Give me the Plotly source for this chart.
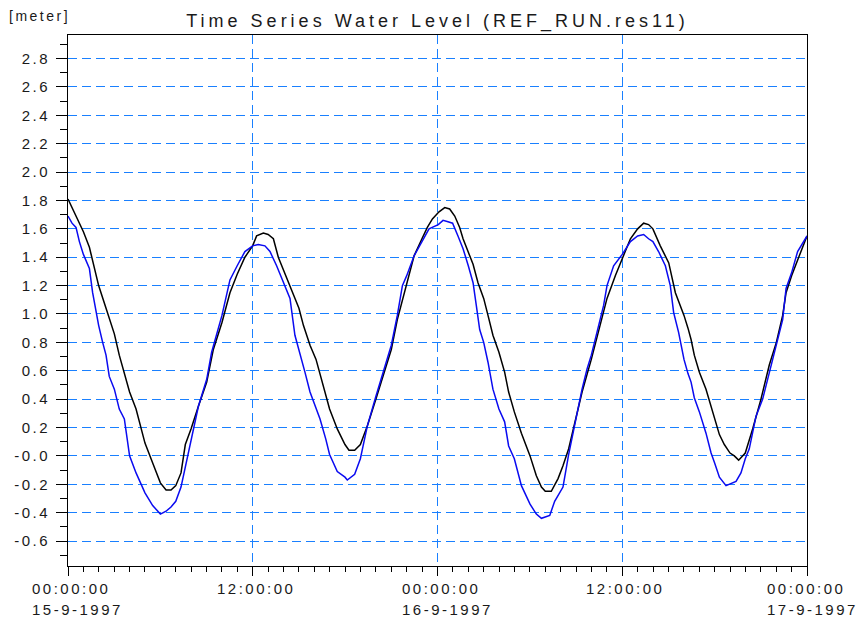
import numpy as np
import pandas as pd
import plotly.graph_objects as go

START = pd.Timestamp("1997-09-15 00:00:00")

# hours since 15-9-1997 00:00 and water level [m]
black_hours = [0.0, 0.52, 1.0, 1.39, 1.99, 2.47, 3.01, 3.33, 4.0, 4.42, 5.0, 5.5, 6.0, 6.37,
               6.69, 7.0, 7.34, 7.62, 7.99, 8.47, 9.01, 9.44, 10.0, 10.52, 10.99, 11.49, 11.99,
               12.25, 12.69, 13.0, 13.34, 13.66, 14.0, 14.42, 15.0, 15.29, 15.72, 16.11, 16.37,
               16.74, 16.99, 17.49, 17.99, 18.25, 18.62, 18.99, 19.44, 20.0, 20.53, 21.0, 21.39,
               22.0, 22.48, 22.99, 23.34, 23.67, 24.1, 24.47, 24.79, 25.12, 25.44, 25.66, 26.0,
               26.31, 26.63, 27.0, 27.28, 27.6, 27.99, 28.36, 28.62, 28.99, 29.45, 30.01, 30.42,
               30.75, 31.0, 31.39, 31.83, 32.15, 32.52, 32.99, 33.39, 33.99, 34.47, 35.01, 35.55,
               36.0, 36.53, 37.0, 37.39, 37.71, 37.99, 38.47, 39.02, 39.45, 40.01, 40.27, 40.47,
               40.68, 41.01, 41.44, 41.77, 42.0, 42.31, 42.63, 43.0, 43.28, 43.56, 43.99, 44.47,
               45.01, 45.55, 46.01, 46.42, 46.64, 47.0, 47.5, 48.0]
black_level = [1.81, 1.69, 1.58, 1.47, 1.20, 1.04, 0.86, 0.71, 0.45, 0.33, 0.09, -0.05, -0.19, -0.24,
               -0.24, -0.21, -0.12, 0.08, 0.19, 0.35, 0.52, 0.75, 0.94, 1.15, 1.28, 1.40, 1.48,
               1.55, 1.57, 1.56, 1.53, 1.40, 1.31, 1.20, 1.04, 0.92, 0.78, 0.68, 0.58,
               0.42, 0.33, 0.19, 0.08, 0.04, 0.04, 0.08, 0.21, 0.40, 0.59, 0.75, 0.96,
               1.22, 1.41, 1.53, 1.61, 1.67, 1.72, 1.75, 1.74, 1.69, 1.61, 1.53, 1.44,
               1.35, 1.22, 1.11, 0.99, 0.85, 0.73, 0.59, 0.45, 0.31, 0.16, 0.00, -0.14,
               -0.22, -0.25, -0.25, -0.16, -0.07, 0.05, 0.26, 0.45, 0.68, 0.89, 1.11, 1.27,
               1.39, 1.53, 1.60, 1.64, 1.63, 1.60, 1.48, 1.36, 1.15, 0.99, 0.90, 0.82,
               0.71, 0.59, 0.47, 0.35, 0.28, 0.15, 0.08, 0.02, 0.00, -0.03, 0.02, 0.19,
               0.40, 0.64, 0.80, 0.99, 1.15, 1.27, 1.41, 1.55]

blue_hours = [0.0, 0.26, 0.52, 0.74, 1.0, 1.39, 1.6, 1.99, 2.25, 2.47, 2.68, 3.01, 3.33, 3.66,
              4.0, 4.42, 5.0, 5.5, 6.0, 6.37, 6.69, 7.0, 7.34, 7.66, 7.99, 8.47, 9.01, 9.33,
              10.0, 10.52, 10.99, 11.49, 11.99, 12.36, 12.79, 13.12, 13.55, 14.0, 14.42, 14.74,
              15.0, 15.39, 15.72, 16.05, 16.37, 16.74, 16.99, 17.49, 17.99, 18.14, 18.62, 18.99,
              19.44, 20.0, 20.53, 21.0, 21.39, 21.72, 22.0, 22.48, 22.99, 23.45, 24.05, 24.36,
              24.68, 24.98, 25.33, 25.66, 26.0, 26.31, 26.52, 26.74, 27.0, 27.28, 27.6, 27.99,
              28.36, 28.62, 28.99, 29.45, 30.01, 30.42, 30.75, 31.29, 31.61, 32.15, 32.52, 32.99,
              33.39, 33.71, 33.99, 34.47, 34.79, 35.01, 35.44, 36.0, 36.53, 37.0, 37.39, 37.71,
              37.99, 38.36, 38.8, 39.12, 39.34, 39.66, 40.01, 40.27, 40.47, 40.68, 41.01, 41.44,
              41.77, 42.0, 42.31, 42.74, 43.39, 43.71, 43.99, 44.25, 44.69, 45.12, 45.55, 46.01,
              46.42, 46.64, 47.0, 47.39, 48.0]
blue_level = [1.69, 1.64, 1.61, 1.51, 1.42, 1.32, 1.15, 0.92, 0.80, 0.71, 0.56, 0.47, 0.33, 0.26,
              0.00, -0.12, -0.26, -0.35, -0.41, -0.39, -0.36, -0.32, -0.22, -0.06, 0.12, 0.35, 0.54, 0.73,
              0.99, 1.24, 1.34, 1.44, 1.48, 1.49, 1.48, 1.44, 1.34, 1.22, 1.11, 0.85,
              0.75, 0.59, 0.45, 0.35, 0.26, 0.12, 0.01, -0.11, -0.15, -0.17, -0.13, -0.02,
              0.21, 0.42, 0.61, 0.78, 0.99, 1.20, 1.27, 1.41, 1.51, 1.60, 1.63, 1.66,
              1.65, 1.64, 1.55, 1.46, 1.34, 1.22, 1.06, 0.89, 0.80, 0.66, 0.47, 0.33,
              0.24, 0.07, -0.02, -0.21, -0.34, -0.41, -0.44, -0.42, -0.32, -0.22, 0.01, 0.26,
              0.47, 0.61, 0.71, 0.92, 1.06, 1.20, 1.34, 1.42, 1.51, 1.55, 1.56, 1.53,
              1.51, 1.44, 1.34, 1.20, 1.01, 0.87, 0.68, 0.58, 0.52, 0.41, 0.31, 0.16,
              0.02, -0.05, -0.15, -0.21, -0.18, -0.12, -0.02, 0.05, 0.28, 0.40, 0.59, 0.78,
              0.96, 1.18, 1.29, 1.44, 1.55]

x_major_hours = [0, 12, 24, 36, 48]
x_time_labels = ["00:00:00", "12:00:00", "00:00:00", "12:00:00", "00:00:00"]
x_date_labels = ["15-9-1997", "", "16-9-1997", "", "17-9-1997"]

y_ticks = np.round(np.arange(-0.6, 2.81, 0.2), 1)
y_labels = ["-0.0" if abs(v) < 1e-9 else f"{v:.1f}" for v in y_ticks]

GRID = "#1a80ff"
FONT = "Liberation Sans, Arial, sans-serif"


def to_time(hours):
    return [START + pd.Timedelta(hours=h) for h in hours]


fig = go.Figure()

fig.add_trace(go.Scatter(
    x=to_time(black_hours), y=black_level, mode="lines",
    line=dict(color="black", width=1.5), name="Black"
))
fig.add_trace(go.Scatter(
    x=to_time(blue_hours), y=blue_level, mode="lines",
    line=dict(color="#0a0af0", width=1.5), name="Blue"
))

fig.update_layout(
    width=859, height=621,
    margin=dict(l=68, r=52, t=35, b=55),
    paper_bgcolor="white", plot_bgcolor="white",
    showlegend=False,
    font=dict(family=FONT, size=15, color="#1a1a1a"),
    title=dict(
        text="Time Series Water Level (REF_RUN.res11)",
        x=0.5, xref="paper", xanchor="center",
        y=1 - 20.5 / 621, yref="container", yanchor="middle",
        font=dict(size=18)
    ),
)

fig.update_xaxes(
    type="date",
    range=[START, START + pd.Timedelta(hours=48)],
    tickmode="array", tickvals=to_time(x_major_hours),
    showticklabels=False,
    ticks="outside", ticklen=9, tickcolor="black",
    showgrid=True, gridcolor=GRID, griddash="9px,5px", gridwidth=1,
    showline=True, linecolor="black", linewidth=1, mirror=True,
    zeroline=False,
    minor=dict(ticks="outside", ticklen=5, tickcolor="black",
               tick0=START, dtick=3600000, showgrid=False),
)

fig.update_yaxes(
    range=[-0.776, 2.966],
    tickmode="array", tickvals=y_ticks, ticktext=y_labels,
    tickfont=dict(size=15),
    ticks="outside", ticklen=11, tickcolor="black",
    ticklabelstandoff=3,
    showgrid=True, gridcolor=GRID, griddash="9px,5px", gridwidth=1,
    showline=True, linecolor="black", linewidth=1, mirror=True,
    zeroline=False,
    minor=dict(ticks="outside", ticklen=7, tickcolor="black",
               tickmode="linear", tick0=0, dtick=0.1, showgrid=False),
)

# x tick labels: time and date lines, left aligned like the original
for h, t_lab, d_lab in zip(x_major_hours, x_time_labels, x_date_labels):
    # last label sits at the right page edge, pull it in a little so it is not cut
    xs = -38 if h < 48 else -42
    for text, shift in ((t_lab, -12), (d_lab, -32.5)):
        if not text:
            continue
        fig.add_annotation(
            x=START + pd.Timedelta(hours=h), xref="x", y=0, yref="paper",
            xanchor="left", yanchor="top", xshift=xs, yshift=shift,
            align="left", text=text, showarrow=False
        )

fig.add_annotation(
    text="[meter]", xref="paper", yref="paper", x=0, y=1,
    xanchor="left", yanchor="middle", xshift=-61, yshift=19,
    align="left", showarrow=False, font=dict(size=14)
)

# no page margin / scrollbar, and the wide letter spacing of the original
PAGE_JS = (
    "var s=document.createElement('style');"
    "s.textContent='html,body{margin:0;padding:0;overflow:hidden}"
    " .main-svg text{letter-spacing:2.5px}"
    " .main-svg .gtitle{letter-spacing:4px}';"
    "document.head.appendChild(s);"
)

fig.write_html("out.html", post_script=PAGE_JS,
               config={"displayModeBar": False})
